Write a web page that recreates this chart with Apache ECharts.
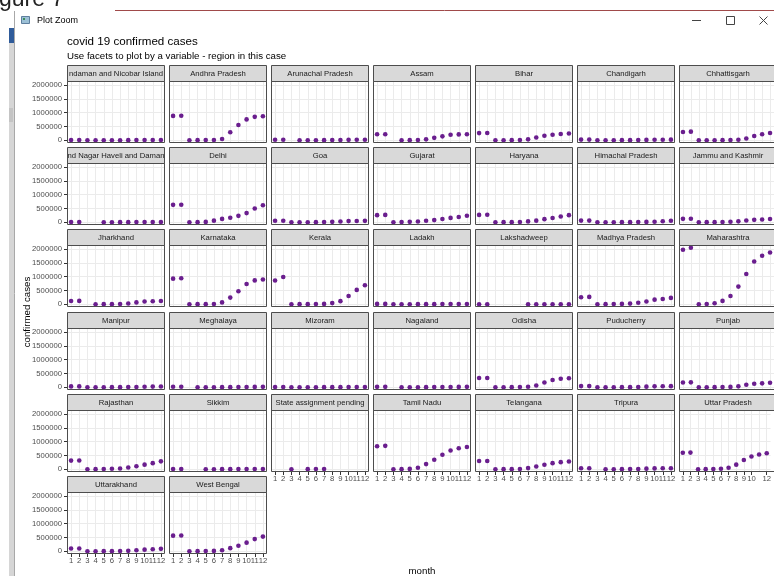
<!DOCTYPE html>
<html>
<head>
<meta charset="utf-8">
<title>covid 19 confirmed cases</title>
<script src="https://cdn.jsdelivr.net/npm/echarts@6/dist/echarts.min.js"></script>
<style>
  html, body { margin: 0; padding: 0; background: #ffffff; }
  #chart { width: 774px; height: 576px; }
</style>
</head>
<body>
<div id="chart"></div>
<script>
// Month numbers on the x axis and the tick values on the y axis
const months = [1, 2, 3, 4, 5, 6, 7, 8, 9, 10, 11, 12];
const yTickValues = [0, 500000, 1000000, 1500000, 2000000];

// Facet names (alphabetical, wrapped 7 per row) and the text shown in each strip
const regions = [
  'Andaman and Nicobar Islands', 'Andhra Pradesh', 'Arunachal Pradesh', 'Assam', 'Bihar', 'Chandigarh', 'Chhattisgarh',
  'Dadra and Nagar Haveli and Daman and Diu', 'Delhi', 'Goa', 'Gujarat', 'Haryana', 'Himachal Pradesh', 'Jammu and Kashmir',
  'Jharkhand', 'Karnataka', 'Kerala', 'Ladakh', 'Lakshadweep', 'Madhya Pradesh', 'Maharashtra',
  'Manipur', 'Meghalaya', 'Mizoram', 'Nagaland', 'Odisha', 'Puducherry', 'Punjab',
  'Rajasthan', 'Sikkim', 'State assignment pending', 'Tamil Nadu', 'Telangana', 'Tripura', 'Uttar Pradesh',
  'Uttarakhand', 'West Bengal'
];
// long names are cut by the strip box, so only the middle part shows
const stripLabels = regions.map(n =>
  n === 'Andaman and Nicobar Islands' ? 'ndaman and Nicobar Island' :
  n === 'Dadra and Nagar Haveli and Daman and Diu' ? 'nd Nagar Haveli and Daman' : n);

// Confirmed cases per month (null = no records for that month)
const andamanNicobar        = [5000, 5000, 5, 20, 33, 50, 200, 1800, 3300, 4000, 4500, 4800];
const andhraPradesh         = [884000, 888000, 20, 650, 2500, 7200, 45000, 290000, 550000, 755000, 848000, 873000];
const arunachalPradesh      = [16800, 16800, null, 1, 2, 100, 900, 2800, 7500, 12500, 15300, 16400];
const assam                 = [217000, 217500, null, 30, 400, 5500, 30000, 85000, 140000, 198000, 210000, 215000];
const bihar                 = [257000, 261000, 10, 200, 2000, 7000, 30000, 100000, 160000, 200000, 225000, 245000];
const chandigarh            = [20500, 21000, 5, 30, 200, 350, 700, 3000, 9500, 13500, 16000, 18500];
const chhattisgarh          = [295000, 310000, 5, 30, 200, 1800, 5500, 18000, 60000, 150000, 215000, 262000];
const dadraNagarHaveliDamanDiu = [3370, 3380, null, null, 2, 40, 500, 1800, 2700, 3100, 3250, 3330];
const delhi                 = [630000, 636000, 50, 1500, 10000, 55000, 120000, 160000, 230000, 330000, 495000, 615000];
const goa                   = [52000, 54000, 3, 7, 30, 600, 3000, 12000, 26000, 40000, 45000, 49000];
const gujarat               = [255000, 264000, 40, 2500, 12000, 25000, 50000, 75000, 115000, 155000, 190000, 235000];
const haryana               = [265000, 268000, 15, 250, 900, 8000, 28000, 55000, 110000, 150000, 205000, 255000];
const himachalPradesh       = [57000, 58000, 3, 30, 150, 600, 1600, 4000, 11000, 18000, 32000, 52000];
const jammuKashmir          = [122000, 125000, 30, 300, 1500, 5000, 13000, 30000, 62000, 85000, 100000, 115000];
const jharkhand             = [117000, 119000, null, 60, 350, 1600, 6000, 25000, 65000, 95000, 106000, 113000];
const karnataka             = [928000, 943000, 50, 350, 1200, 8000, 65000, 240000, 470000, 735000, 865000, 900000];
const kerala                = [860000, 990000, 100, 400, 700, 2500, 10000, 40000, 110000, 300000, 520000, 690000];
const ladakh                = [9700, 9800, 10, 20, 40, 600, 1000, 2000, 3500, 5500, 7500, 9000];
const lakshadweep           = [60, 200, null, null, null, null, 0, 0, 0, 0, 0, 0];
const madhyaPradesh         = [250000, 265000, 30, 1500, 6000, 11000, 22000, 50000, 100000, 165000, 190000, 228000];
const maharashtra           = [1980000, 2050000, 100, 4000, 35000, 120000, 300000, 640000, 1100000, 1550000, 1760000, 1880000];
const manipur               = [29000, 29100, 1, 2, 30, 800, 2000, 5000, 9000, 16000, 22000, 27000];
const meghalaya             = [13700, 13900, null, 5, 12, 30, 300, 1500, 4000, 7500, 10000, 12500];
const mizoram               = [4300, 4350, 1, 1, 5, 100, 250, 700, 1500, 2200, 3200, 4000];
const nagaland              = [12000, 12100, null, 1, 5, 150, 700, 3000, 5000, 8000, 10500, 11800];
const odisha                = [333000, 336000, 2, 60, 900, 4500, 15000, 60000, 170000, 260000, 305000, 325000];
const puducherry            = [38500, 39200, 1, 5, 20, 300, 1500, 7000, 20000, 30000, 35500, 37500];
const punjab                = [169000, 175000, 20, 150, 1500, 3500, 10000, 30000, 90000, 125000, 140000, 160000];
const rajasthan             = [313000, 318000, 30, 1500, 6000, 13000, 27000, 60000, 105000, 165000, 220000, 285000];
const sikkim                = [5800, 6000, null, null, 1, 40, 300, 1200, 2500, 3500, 4500, 5300];
const stateAssignmentPending = [null, null, 0, null, 2000, 7000, 9000, null, null, null, null, null];
const tamilNadu             = [832000, 848000, 30, 1000, 11000, 50000, 185000, 345000, 525000, 680000, 762000, 806000];
const telangana             = [298000, 300000, 30, 800, 2000, 7000, 40000, 95000, 160000, 220000, 255000, 280000];
const tripura               = [33300, 33400, null, 2, 80, 800, 3000, 7500, 20000, 29000, 31800, 32800];
const uttarPradesh          = [600000, 604000, 40, 1000, 5000, 16000, 50000, 165000, 335000, 460000, 535000, 580000];
const uttarakhand           = [95000, 97000, 3, 40, 300, 1800, 4500, 12000, 35000, 56000, 68000, 85000];
const westBengal            = [565000, 572000, 20, 400, 3000, 11000, 35000, 110000, 200000, 310000, 440000, 530000];

const regionValues = [
  andamanNicobar, andhraPradesh, arunachalPradesh, assam, bihar, chandigarh, chhattisgarh,
  dadraNagarHaveliDamanDiu, delhi, goa, gujarat, haryana, himachalPradesh, jammuKashmir,
  jharkhand, karnataka, kerala, ladakh, lakshadweep, madhyaPradesh, maharashtra,
  manipur, meghalaya, mizoram, nagaland, odisha, puducherry, punjab,
  rajasthan, sikkim, stateAssignmentPending, tamilNadu, telangana, tripura, uttarPradesh,
  uttarakhand, westBengal
];

// ---- facet layout ----
const FONT = '"Liberation Sans", Arial, sans-serif';
const NCOL = 7;
const COL0 = 67, COL_STEP = 102, PANEL_W = 98;
const ROW0 = 65, ROW_STEP = 82.2, STRIP_H = 16, PANEL_H = 62;
const Y_MIN = -102500, Y_MAX = 2152500;   // 0..2.05M with 5% padding
const BORDER = '#4D4D4D';
const GRIDLINE = '#EBEBEB';
const POINT = '#6A1E8E';

const grids = [], xAxes = [], yAxes = [], series = [], graphics = [];

regions.forEach((name, i) => {
  const r = Math.floor(i / NCOL), c = i % NCOL;
  const left = COL0 + c * COL_STEP;
  const stripTop = Math.round(ROW0 + r * ROW_STEP);
  const top = stripTop + STRIP_H;
  // x labels only under the lowest panel of each column
  const lowest = (i + NCOL >= regions.length);

  grids.push({ left: left, top: top, width: PANEL_W, height: PANEL_H, show: false });

  xAxes.push({
    gridIndex: i, type: 'value', min: 0.5, max: 12.5, interval: 0.5,
    axisLine: { show: false, onZero: false },
    axisTick: { show: lowest, customValues: months, length: 3, lineStyle: { color: '#333333', width: 1 } },
    axisLabel: {
      show: lowest, customValues: months, fontSize: 7.7, color: '#4D4D4D', fontFamily: FONT, margin: 3,
      showMinLabel: true, showMaxLabel: true, hideOverlap: false,
      formatter: v => (Number.isInteger(v) ? String(v) : '')
    },
    splitLine: { show: true, lineStyle: { color: GRIDLINE, width: 1 } }
  });

  yAxes.push({
    gridIndex: i, type: 'value', min: Y_MIN, max: Y_MAX,
    splitNumber: 9, minInterval: 250000, maxInterval: 250000,
    axisLine: { show: false, onZero: false },
    axisTick: { show: c === 0, customValues: yTickValues, length: 3, lineStyle: { color: '#333333', width: 1 } },
    axisLabel: {
      show: c === 0, customValues: yTickValues, fontSize: 7.7, color: '#4D4D4D', fontFamily: FONT, margin: 5,
      formatter: v => (v >= 0 && v % 500000 === 0 ? String(v) : '')
    },
    splitLine: { show: true, lineStyle: { color: GRIDLINE, width: 1 } }
  });

  const pts = [];
  regionValues[i].forEach((v, k) => { if (v !== null) pts.push([months[k], v]); });
  series.push({
    type: 'scatter', name: name, xAxisIndex: i, yAxisIndex: i,
    data: pts, symbol: 'circle', symbolSize: 4.6,
    itemStyle: { color: POINT, opacity: 1 }, silent: true, z: 3
  });

  // strip box and label
  graphics.push({
    type: 'rect', z: 50,
    shape: { x: left + 0.5, y: stripTop + 0.5, width: PANEL_W - 1, height: STRIP_H },
    style: { fill: '#D9D9D9', stroke: BORDER, lineWidth: 1 }
  });
  graphics.push({
    type: 'text', z: 51,
    x: left + PANEL_W / 2, y: stripTop + STRIP_H / 2 + 0.5,
    style: {
      text: stripLabels[i], fill: '#1A1A1A', font: '7.7px ' + FONT,
      align: 'center', verticalAlign: 'middle', textAlign: 'center', textVerticalAlign: 'middle'
    }
  });
  // panel border
  graphics.push({
    type: 'rect', z: 50,
    shape: { x: left + 0.5, y: top + 0.5, width: PANEL_W - 1, height: PANEL_H - 1 },
    style: { fill: null, stroke: BORDER, lineWidth: 1 }
  });
});

// ---- titles ----
const txt = (s, x, y, size, extra) => Object.assign({
  type: 'text', z: 60, x: x, y: y,
  style: { text: s, fill: '#000000', font: size + 'px ' + FONT,
           align: 'left', verticalAlign: 'middle', textAlign: 'left', textVerticalAlign: 'middle' }
}, extra || {});

graphics.push(txt('covid 19 confirmed cases', 67, 42, 11.6));
graphics.push(txt('Use facets to plot by a variable - region in this case', 67, 56.5, 9.7));
graphics.push({
  type: 'text', z: 60, x: 422, y: 571,
  style: { text: 'month', fill: '#000000', font: '9.7px ' + FONT,
           align: 'center', verticalAlign: 'middle', textAlign: 'center', textVerticalAlign: 'middle' }
});
graphics.push({
  type: 'text', z: 60, x: 27, y: 312, rotation: Math.PI / 2,
  style: { text: 'confirmed cases', fill: '#000000', font: '9.7px ' + FONT,
           align: 'center', verticalAlign: 'middle', textAlign: 'center', textVerticalAlign: 'middle' }
});

// ---- viewer window frame ----
graphics.push({
  type: 'text', z: 60, x: -1, y: 11,
  style: { text: 'gure 7', fill: '#222222', font: '23px ' + FONT,
           align: 'left', verticalAlign: 'bottom', textAlign: 'left', textVerticalAlign: 'bottom' }
});
graphics.push({ type: 'rect', z: 61, shape: { x: 14, y: 11, width: 760, height: 10 }, style: { fill: '#ffffff' } });
graphics.push({ type: 'line', z: 62, shape: { x1: 115, y1: 10.5, x2: 774, y2: 10.5 }, style: { stroke: '#A04A4A', lineWidth: 1 } });
graphics.push({ type: 'rect', z: 60, shape: { x: 9, y: 28, width: 5, height: 15 }, style: { fill: '#2F5B9A' } });
graphics.push({ type: 'rect', z: 60, shape: { x: 9, y: 43, width: 5, height: 533 }, style: { fill: '#D6D6D6' } });
graphics.push({ type: 'rect', z: 60, shape: { x: 9, y: 108, width: 4, height: 14 }, style: { fill: '#C4C4C4' } });
graphics.push({ type: 'line', z: 62, shape: { x1: 14.5, y1: 11, x2: 14.5, y2: 576 }, style: { stroke: '#A8A8A8', lineWidth: 1 } });
// title bar icon, caption and buttons
graphics.push({ type: 'rect', z: 62, shape: { x: 21.5, y: 16.5, width: 8, height: 7 }, style: { fill: '#9CC0D6', stroke: '#5F7F9E', lineWidth: 1 } });
graphics.push({ type: 'rect', z: 63, shape: { x: 23, y: 18, width: 2, height: 2 }, style: { fill: '#3C8C5A' } });
graphics.push(txt('Plot Zoom', 37, 21, 9, { z: 62 }));
graphics.push({ type: 'line', z: 62, shape: { x1: 692, y1: 20.5, x2: 701, y2: 20.5 }, style: { stroke: '#444444', lineWidth: 1 } });
graphics.push({ type: 'rect', z: 62, shape: { x: 726.5, y: 16.5, width: 8, height: 8 }, style: { fill: null, stroke: '#444444', lineWidth: 1 } });
graphics.push({ type: 'line', z: 62, shape: { x1: 759.5, y1: 16.5, x2: 767.5, y2: 24.5 }, style: { stroke: '#444444', lineWidth: 1 } });
graphics.push({ type: 'line', z: 62, shape: { x1: 767.5, y1: 16.5, x2: 759.5, y2: 24.5 }, style: { stroke: '#444444', lineWidth: 1 } });

const chart = echarts.init(document.getElementById('chart'), null, { renderer: 'canvas' });
chart.setOption({
  animation: false,
  backgroundColor: '#ffffff',
  textStyle: { fontFamily: FONT },
  grid: grids,
  xAxis: xAxes,
  yAxis: yAxes,
  series: series,
  graphic: { elements: graphics }
});
</script>
</body>
</html>
